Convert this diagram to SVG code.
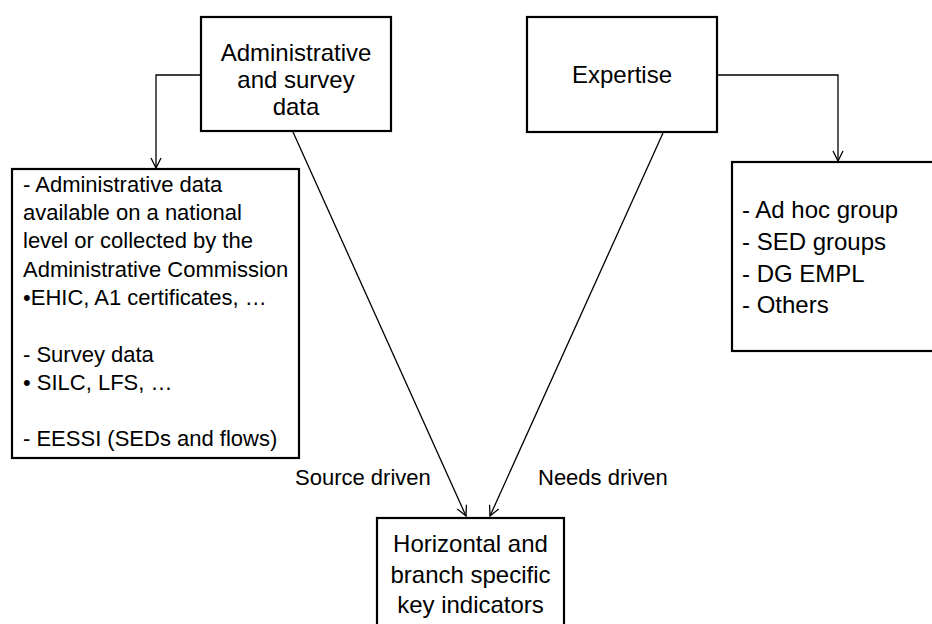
<svg xmlns="http://www.w3.org/2000/svg" width="932" height="624" viewBox="0 0 932 624">
<defs>
<marker id="arr" viewBox="0 0 12 12" refX="11" refY="6" markerWidth="12" markerHeight="12" markerUnits="userSpaceOnUse" orient="auto">
<path d="M1,1 L11,6 L1,11" fill="none" stroke="#000" stroke-width="1.3"/>
</marker>
<style>
.box{fill:#fff;stroke:#000;stroke-width:2.2}
.t{font-family:"Liberation Sans",Arial,sans-serif;font-size:24px;fill:#000}
.c{text-anchor:middle}
.s{font-size:22px}
.ln{fill:none;stroke:#000;stroke-width:1.3;marker-end:url(#arr)}
</style>
</defs>
<rect width="932" height="624" fill="#fff"/>
<g id="connectors">
<path class="ln" d="M201,75 H156 V168"/>
<path class="ln" d="M717,75 H838 V161"/>
<path class="ln" d="M293,132 L466,516"/>
<path class="ln" d="M663,133 L490,516"/>
</g>
<g id="admin">
<rect class="box" x="201" y="17" width="190" height="114"/>
<text class="t c" x="296" y="61">Administrative</text>
<text class="t c" x="296" y="88">and survey</text>
<text class="t c" x="296" y="115">data</text>
</g>
<g id="expertise">
<rect class="box" x="527" y="17" width="190" height="115"/>
<text class="t c" x="622" y="83">Expertise</text>
</g>
<g id="datalist">
<rect class="box" x="12" y="169" width="287" height="289"/>
<text class="t s" x="23" y="192">- Administrative data</text>
<text class="t s" x="23" y="220">available on a national</text>
<text class="t s" x="23" y="248">level or collected by the</text>
<text class="t s" x="23" y="277">Administrative Commission</text>
<text class="t s" x="23" y="305">•EHIC, A1 certificates, …</text>
<text class="t s" x="23" y="362">- Survey data</text>
<text class="t s" x="23" y="390">• SILC, LFS, …</text>
<text class="t s" x="23" y="446">- EESSI (SEDs and flows)</text>
</g>
<g id="experts">
<rect class="box" x="732" y="162" width="210" height="189"/>
<text class="t" x="742" y="218">- Ad hoc group</text>
<text class="t" x="742" y="250">- SED groups</text>
<text class="t" x="742" y="282">- DG EMPL</text>
<text class="t" x="742" y="313">- Others</text>
</g>
<g id="labels">
<text class="t s" x="295" y="485">Source driven</text>
<text class="t s" x="538" y="485">Needs driven</text>
</g>
<g id="indicators">
<rect class="box" x="377" y="518" width="187" height="120"/>
<text class="t c" x="470.5" y="552">Horizontal and</text>
<text class="t c" x="470.5" y="583">branch specific</text>
<text class="t c" x="470.5" y="613">key indicators</text>
</g>
</svg>
